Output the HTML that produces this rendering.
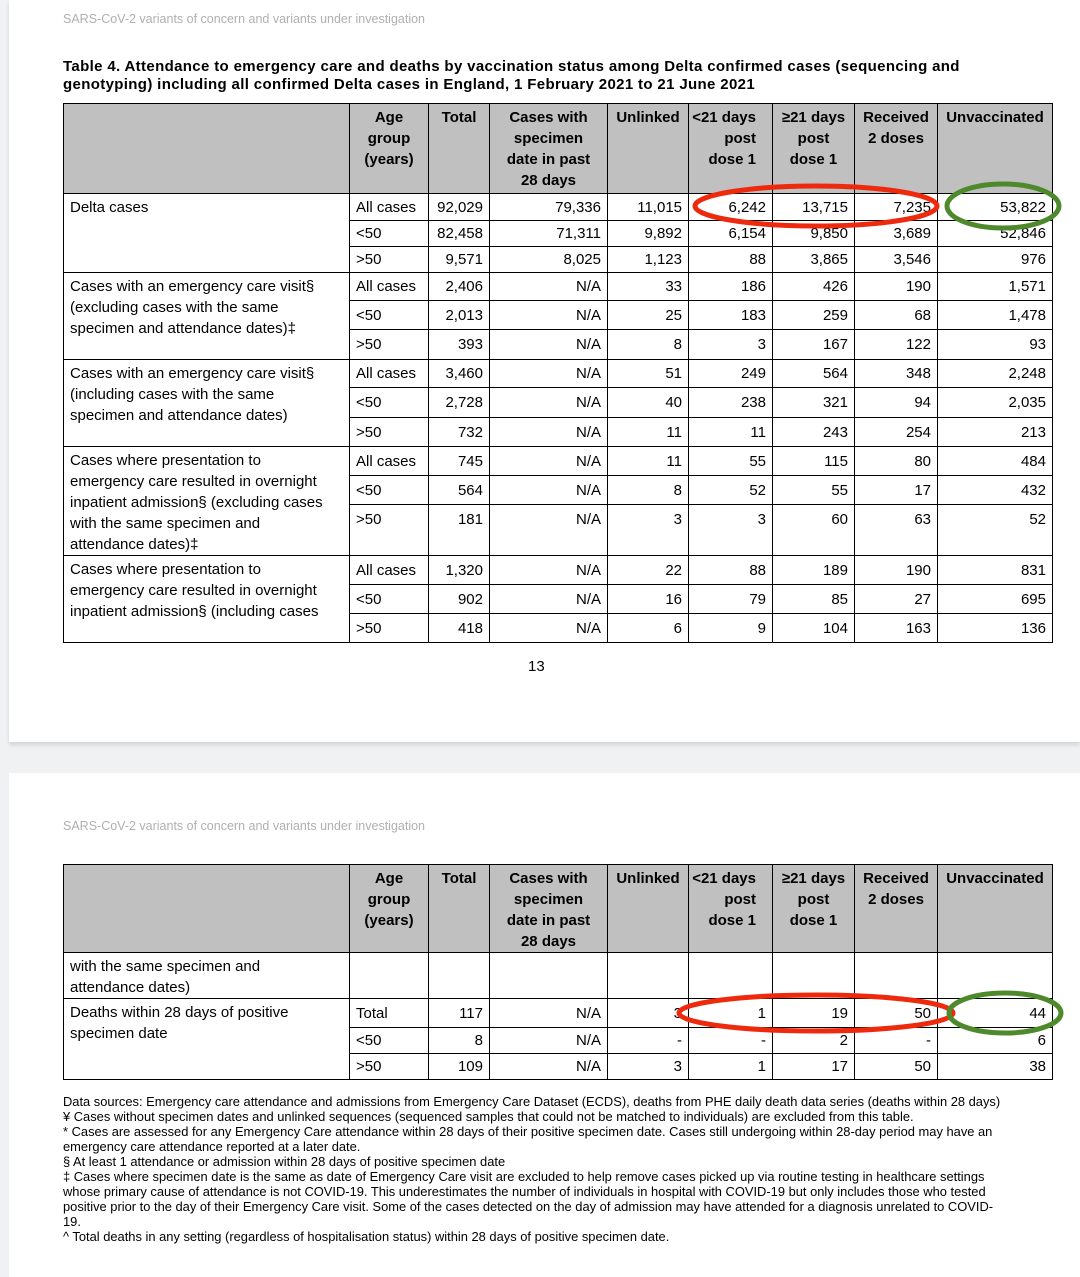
<!DOCTYPE html>
<html><head><meta charset="utf-8"><style>
body{margin:0;width:1080px;height:1277px;background:#eff1f3;position:relative;overflow:hidden;font-family:"Liberation Sans",Arial,sans-serif;color:#000}
.pg{position:absolute;left:9px;right:0;background:#fff}
.hd{position:absolute;left:63px;font-size:12.5px;color:#b0b0b0}
table{position:absolute;left:63px;border-collapse:collapse;table-layout:fixed;font-size:15px;width:989px}
td{border:1px solid #000;padding:0 6px;vertical-align:middle;text-align:right;line-height:21px;white-space:nowrap}
td.l{text-align:left;vertical-align:top;padding-top:3px}
td.a{text-align:left}
tr.t td{vertical-align:top;padding-top:4px}
tr.t td.l{padding-top:3px}
tr.h td{background:#c0c0c0;font-weight:bold;text-align:center;vertical-align:top;padding:3px 2px 0}
.fn{position:absolute;left:63px;top:1094px;width:1000px;font-size:12.9px;line-height:15px;white-space:nowrap}
</style></head><body>
<div class="pg" style="top:0;height:742px;box-shadow:0 3px 4px rgba(0,0,0,.12)"></div>
<div class="pg" style="top:773px;height:504px"></div>
<div class="hd" style="top:12px">SARS-CoV-2 variants of concern and variants under investigation</div>
<div style="position:absolute;left:63px;top:58px;font-size:15px;font-weight:bold;line-height:18px;white-space:nowrap;letter-spacing:0.35px">Table 4. Attendance to emergency care and deaths by vaccination status among Delta confirmed cases (sequencing and<br>genotyping) including all confirmed Delta cases in England, 1 February 2021 to 21 June 2021</div>
<table style="top:103px">
<colgroup><col style="width:286px"><col style="width:79px"><col style="width:61px"><col style="width:118px"><col style="width:81px"><col style="width:84px"><col style="width:82px"><col style="width:83px"><col style="width:115px"></colgroup>
<tr class="h" style="height:90px"><td></td><td>Age<br>group<br>(years)</td><td>Total</td><td>Cases with<br>specimen<br>date in past<br>28 days</td><td>Unlinked</td><td style="text-align:right;padding-right:16px">&lt;21 days<br>post<br>dose 1</td><td>≥21 days<br>post<br>dose 1</td><td>Received<br>2 doses</td><td>Unvaccinated</td></tr>
<tr style="height:27px"><td class="l" rowspan="3">Delta cases</td><td class="a">All cases</td><td>92,029</td><td>79,336</td><td>11,015</td><td>6,242</td><td>13,715</td><td>7,235</td><td>53,822</td></tr>
<tr style="height:26px"><td class="a">&lt;50</td><td>82,458</td><td>71,311</td><td>9,892</td><td>6,154</td><td>9,850</td><td>3,689</td><td>52,846</td></tr>
<tr style="height:26px"><td class="a">&gt;50</td><td>9,571</td><td>8,025</td><td>1,123</td><td>88</td><td>3,865</td><td>3,546</td><td>976</td></tr>
<tr style="height:28px"><td class="l" rowspan="3">Cases with an emergency care visit§<br>(excluding cases with the same<br>specimen and attendance dates)‡</td><td class="a">All cases</td><td>2,406</td><td>N/A</td><td>33</td><td>186</td><td>426</td><td>190</td><td>1,571</td></tr>
<tr style="height:29px"><td class="a">&lt;50</td><td>2,013</td><td>N/A</td><td>25</td><td>183</td><td>259</td><td>68</td><td>1,478</td></tr>
<tr style="height:30px"><td class="a">&gt;50</td><td>393</td><td>N/A</td><td>8</td><td>3</td><td>167</td><td>122</td><td>93</td></tr>
<tr style="height:28px"><td class="l" rowspan="3">Cases with an emergency care visit§<br>(including cases with the same<br>specimen and attendance dates)</td><td class="a">All cases</td><td>3,460</td><td>N/A</td><td>51</td><td>249</td><td>564</td><td>348</td><td>2,248</td></tr>
<tr style="height:30px"><td class="a">&lt;50</td><td>2,728</td><td>N/A</td><td>40</td><td>238</td><td>321</td><td>94</td><td>2,035</td></tr>
<tr style="height:29px"><td class="a">&gt;50</td><td>732</td><td>N/A</td><td>11</td><td>11</td><td>243</td><td>254</td><td>213</td></tr>
<tr style="height:29px"><td class="l" rowspan="3">Cases where presentation to<br>emergency care resulted in overnight<br>inpatient admission§ (excluding cases<br>with the same specimen and<br>attendance dates)‡</td><td class="a">All cases</td><td>745</td><td>N/A</td><td>11</td><td>55</td><td>115</td><td>80</td><td>484</td></tr>
<tr style="height:29px"><td class="a">&lt;50</td><td>564</td><td>N/A</td><td>8</td><td>52</td><td>55</td><td>17</td><td>432</td></tr>
<tr class="t" style="height:51px"><td class="a">&gt;50</td><td>181</td><td>N/A</td><td>3</td><td>3</td><td>60</td><td>63</td><td>52</td></tr>
<tr style="height:29px"><td class="l" rowspan="3">Cases where presentation to<br>emergency care resulted in overnight<br>inpatient admission§ (including cases</td><td class="a">All cases</td><td>1,320</td><td>N/A</td><td>22</td><td>88</td><td>189</td><td>190</td><td>831</td></tr>
<tr style="height:29px"><td class="a">&lt;50</td><td>902</td><td>N/A</td><td>16</td><td>79</td><td>85</td><td>27</td><td>695</td></tr>
<tr style="height:29px"><td class="a">&gt;50</td><td>418</td><td>N/A</td><td>6</td><td>9</td><td>104</td><td>163</td><td>136</td></tr>
</table>
<div style="position:absolute;left:528px;top:658px;font-size:15px">13</div>
<div class="hd" style="top:819px">SARS-CoV-2 variants of concern and variants under investigation</div>
<table style="top:864px">
<colgroup><col style="width:286px"><col style="width:79px"><col style="width:61px"><col style="width:118px"><col style="width:81px"><col style="width:84px"><col style="width:82px"><col style="width:83px"><col style="width:115px"></colgroup>
<tr class="h" style="height:88px"><td></td><td>Age<br>group<br>(years)</td><td>Total</td><td>Cases with<br>specimen<br>date in past<br>28 days</td><td>Unlinked</td><td style="text-align:right;padding-right:16px">&lt;21 days<br>post<br>dose 1</td><td>≥21 days<br>post<br>dose 1</td><td>Received<br>2 doses</td><td>Unvaccinated</td></tr>
<tr style="height:46px"><td class="l">with the same specimen and<br>attendance dates)</td><td></td><td></td><td></td><td></td><td></td><td></td><td></td><td></td></tr>
<tr style="height:29px"><td class="l" rowspan="3">Deaths within 28 days of positive<br>specimen date</td><td class="a">Total</td><td>117</td><td>N/A</td><td>3</td><td>1</td><td>19</td><td>50</td><td>44</td></tr>
<tr style="height:26px"><td class="a">&lt;50</td><td>8</td><td>N/A</td><td>-</td><td>-</td><td>2</td><td>-</td><td>6</td></tr>
<tr style="height:26px"><td class="a">&gt;50</td><td>109</td><td>N/A</td><td>3</td><td>1</td><td>17</td><td>50</td><td>38</td></tr>
</table>
<div class="fn">Data sources: Emergency care attendance and admissions from Emergency Care Dataset (ECDS), deaths from PHE daily death data series (deaths within 28 days)<br>¥ Cases without specimen dates and unlinked sequences (sequenced samples that could not be matched to individuals) are excluded from this table.<br>* Cases are assessed for any Emergency Care attendance within 28 days of their positive specimen date. Cases still undergoing within 28-day period may have an<br>emergency care attendance reported at a later date.<br>§ At least 1 attendance or admission within 28 days of positive specimen date<br>‡ Cases where specimen date is the same as date of Emergency Care visit are excluded to help remove cases picked up via routine testing in healthcare settings<br>whose primary cause of attendance is not COVID-19. This underestimates the number of individuals in hospital with COVID-19 but only includes those who tested<br>positive prior to the day of their Emergency Care visit. Some of the cases detected on the day of admission may have attended for a diagnosis unrelated to COVID-<br>19.<br>^ Total deaths in any setting (regardless of hospitalisation status) within 28 days of positive specimen date.</div>
<svg width="1080" height="1277" style="position:absolute;left:0;top:0" fill="none">
<ellipse cx="816" cy="206" rx="121" ry="20" stroke="#ee2a0e" stroke-width="5"/>
<ellipse cx="1003" cy="206" rx="56" ry="22" stroke="#4e8a2c" stroke-width="5"/>
<ellipse cx="816" cy="1013" rx="137" ry="18" stroke="#ee2a0e" stroke-width="5"/>
<ellipse cx="1005" cy="1013" rx="56" ry="20" stroke="#4e8a2c" stroke-width="5"/>
</svg>
</body></html>
